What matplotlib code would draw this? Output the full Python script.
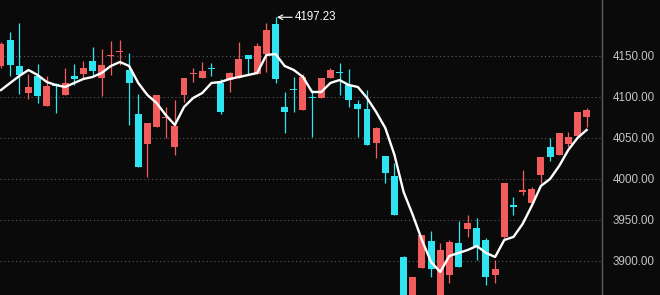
import numpy as np
import matplotlib
matplotlib.use("Agg")
import matplotlib.pyplot as plt

# daily candles
opens = [4137.8, 4169.5, 4137.8, 4104.9, 4125.6, 4089.0, 4115.9, 4102.4, 4125.6, 4128.0,
         4143.9, 4123.2, 4150.0, 4155.0, 4132.9, 4079.3, 4042.7, 4063.4, 4074.4, 4039.0,
         4102.4, 4128.0, 4123.2, 4135.4, 4117.1, 4120.7, 4123.2, 4151.2, 4128.0, 4152.4,
         4189.0, 4087.8, 4109.8, 4084.1, 4100.0, 4098.8, 4123.2, 4130.5, 4114.6, 4091.5,
         4085.4, 4043.9, 4028.0, 4003.7, 3904.9, 3845.0, 3891.5, 3924.4, 3850.0, 3882.9,
         3922.0, 3939.0, 3940.2, 3925.6, 3882.9, 3929.3, 3968.3, 3984.1, 3970.7, 4004.9,
         4039.0, 4029.3, 4042.7, 4052.4, 4075.6]
closes = [4164.6, 4139.0, 4126.8, 4112.2, 4101.2, 4113.4, 4113.4, 4117.1, 4122.0, 4135.4,
          4131.7, 4139.0, 4151.2, 4156.1, 4117.1, 4014.6, 4068.3, 4102.4, 4075.6, 4064.6,
          4123.2, 4129.3, 4131.7, 4134.1, 4081.7, 4129.3, 4146.3, 4146.3, 4162.2, 4181.7,
          4122.0, 4081.7, 4108.5, 4124.4, 4098.8, 4123.2, 4132.9, 4129.3, 4096.3, 4085.4,
          4041.5, 4062.2, 4007.3, 3956.1, 3845.0, 3880.5, 3931.7, 3890.2, 3913.4, 3923.2,
          3892.7, 3946.3, 3918.3, 3880.5, 3890.2, 3995.1, 3965.9, 3986.6, 3987.8, 4026.8,
          4026.8, 4056.1, 4051.2, 4081.7, 4084.1]
highs = [4167.1, 4179.3, 4190.2, 4128.0, 4140.2, 4125.6, 4117.1, 4135.4, 4140.2, 4143.9,
         4161.0, 4158.5, 4168.3, 4169.5, 4153.7, 4103.7, 4068.3, 4102.4, 4087.8, 4096.3,
         4123.2, 4135.4, 4142.7, 4141.5, 4122.0, 4130.5, 4167.1, 4151.2, 4165.9, 4190.2,
         4197.23, 4106.1, 4124.4, 4128.0, 4108.5, 4123.2, 4135.4, 4141.5, 4134.1, 4096.3,
         4108.5, 4063.4, 4028.0, 4019.5, 3906.1, 3880.5, 3931.7, 3936.6, 3922.0, 3925.6,
         3948.8, 3956.1, 3952.4, 3928.0, 3901.2, 3995.1, 3978.0, 4011.0, 3990.2, 4026.8,
         4050.0, 4056.1, 4057.3, 4081.7, 4086.6]
lows = [4135.4, 4125.6, 4103.7, 4097.6, 4092.7, 4089.0, 4080.5, 4102.4, 4114.6, 4122.0,
        4125.6, 4101.2, 4126.8, 4139.0, 4065.9, 4014.6, 4002.4, 4063.4, 4050.0, 4029.3,
        4093.9, 4118.3, 4123.2, 4125.6, 4079.3, 4106.1, 4123.2, 4126.8, 4128.0, 4130.5,
        4117.1, 4056.1, 4081.7, 4084.1, 4051.2, 4098.8, 4123.2, 4102.4, 4087.8, 4051.2,
        4041.5, 4025.6, 3995.1, 3956.1, 3840.0, 3835.0, 3891.5, 3880.5, 3840.0, 3873.2,
        3892.7, 3929.3, 3901.2, 3870.7, 3873.2, 3928.0, 3956.1, 3980.5, 3970.7, 3995.1,
        4022.0, 4029.3, 4039.0, 4052.4, 4063.4]
# white average line, read point by point
ma = [4108.5, 4117.1, 4125.6, 4132.9, 4126.8, 4118.3, 4114.6, 4112.2, 4117.1, 4122.0,
      4124.4, 4129.3, 4137.8, 4142.7, 4137.8, 4117.1, 4102.4, 4092.7, 4078.0, 4065.9,
      4087.8, 4098.8, 4104.9, 4117.1, 4118.3, 4122.0, 4124.4, 4126.8, 4129.3, 4151.2,
      4152.4, 4137.8, 4132.9, 4124.4, 4106.1, 4106.1, 4117.1, 4120.7, 4114.6, 4112.2,
      4098.8, 4081.7, 4062.2, 4029.3, 3984.1, 3956.1, 3925.6, 3898.8, 3886.6, 3906.1,
      3909.8, 3913.4, 3918.3, 3909.8, 3904.9, 3925.6, 3929.3, 3945.1, 3967.1, 3991.5,
      4000.0, 4015.9, 4035.4, 4050.0, 4059.8]
yticks = [3900, 3950, 4000, 4050, 4100, 4150]
peak_label = "4197.23"

bg = "#0a0a0a"
up_col = "#f25c5c"
down_col = "#2fe3f0"

fig = plt.figure(figsize=(6.6, 2.95), dpi=100, facecolor=bg)
ax = fig.add_axes([0, 0, 602 / 660, 1])
ax.set_facecolor(bg)

x = np.arange(len(opens))
o = np.array(opens)
c = np.array(closes)
colors = [up_col if cc >= oo else down_col for oo, cc in zip(o, c)]

ax.vlines(x, lows, highs, colors=colors, lw=0.9, zorder=2)
bottom = np.minimum(o, c)
height = np.maximum(np.abs(c - o), 1.3)
ax.bar(x, height, bottom=bottom, width=0.76, color=colors, lw=0, zorder=3)

ax.plot(x, ma, color="white", lw=1.7, zorder=4)

ax.annotate(peak_label, xy=(30.15, 4197.23), xytext=(13, 0), textcoords="offset points",
            va="center", ha="left", color="white", fontsize=8.3, family="Liberation Sans",
            arrowprops=dict(arrowstyle="->", color="white", lw=0.8, shrinkA=0, shrinkB=0))

ax.set_xlim(-0.11, 65.68)
ax.set_ylim(3858.5, 4218.3)
ax.set_yticks(yticks)
ax.set_yticklabels([f"{v:.2f}" for v in yticks])
ax.yaxis.tick_right()
ax.tick_params(axis="y", length=0, pad=7.5, labelcolor="#c4c4c4", labelsize=8.4)
for lab in ax.get_yticklabels():
    lab.set_family("Liberation Sans")
ax.set_xticks([])
ax.grid(axis="y", color="#5a5a5a", linestyle=(0, (1, 2.5)), lw=0.8, zorder=1)
for side in ["left", "top", "bottom"]:
    ax.spines[side].set_visible(False)
ax.spines["right"].set_color("#5c5c5c")
ax.spines["right"].set_linewidth(1.0)

fig.savefig("out.png", dpi=100, facecolor=bg)
